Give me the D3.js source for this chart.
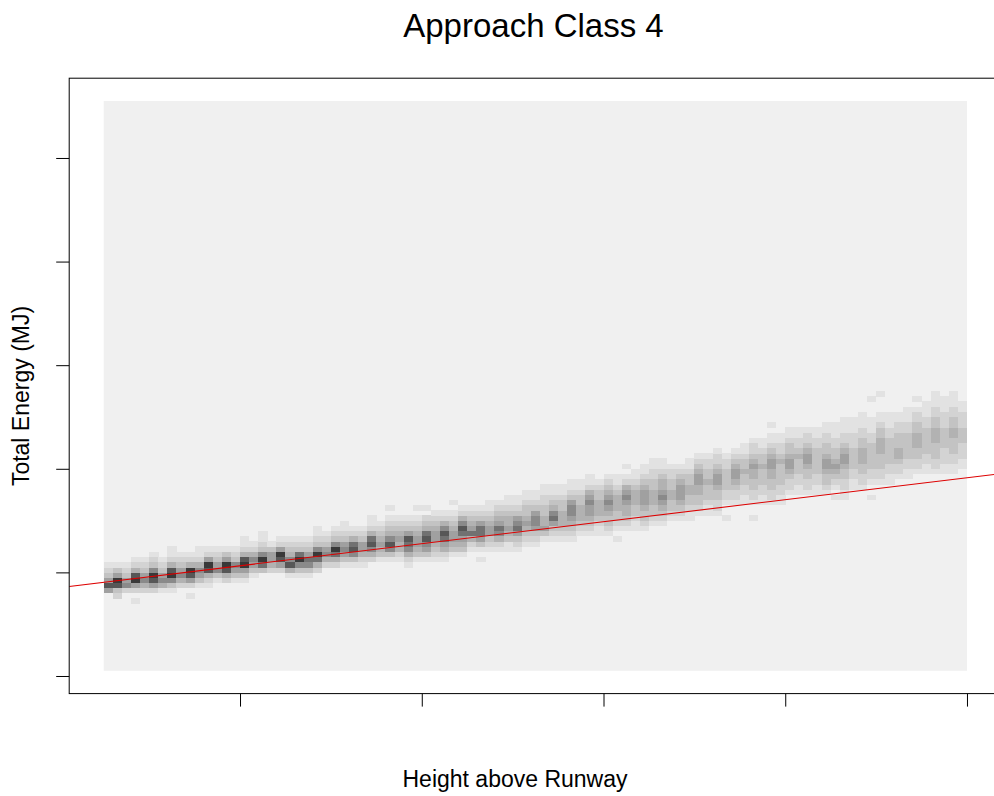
<!DOCTYPE html>
<html>
<head>
<meta charset="utf-8">
<script src="https://cdn.jsdelivr.net/npm/d3@7"></script>
<style>
  body { margin: 0; background: #ffffff; }
  svg text { font-family: "Liberation Sans", Arial, Helvetica, sans-serif; fill: #000; }
</style>
</head>
<body>
<svg id="chart" width="994" height="796"></svg>
<script>
// Height bins (ft): 95 bins of 50 ft covering 250..5000
const heightRange = [250, 5000];
const heightBinWidth = 50;
// Energy bins (MJ): 110 bins of 1 MJ covering 1..111
const energyRange = [1, 111];
const energyBinWidth = 1;

// Lowest energy bin that holds counts, one entry per height bin
const columnBaseBin = [
  16, 15, 16, 14, 16, 16, 16, 16, 17, 15, 17, 17, 18, 18, 18, 18, 19, 20, 20, 20,
  19, 19, 19, 20, 21, 21, 21, 21, 21, 22, 22, 22, 22, 21, 22, 22, 22, 22, 23, 23,
  24, 22, 24, 24, 24, 24, 25, 25, 26, 26, 26, 26, 27, 27, 27, 27, 26, 28, 28, 28,
  29, 29, 30, 30, 30, 31, 31, 31, 30, 33, 33, 30, 33, 33, 33, 35, 35, 35, 35,
  35, 34, 34, 36, 36, 34, 37, 37, 38, 38, 39, 39, 39, 39, 39, 40
];

// Counts per energy bin, going upward from columnBaseBin (one digit per bin)
const columnCounts = [
  "585321", "2389531", "265321", "102598421", "2465321",
  "25896321", "1465321", "136984211", "2465321", "102589421",
  "13564211", "12489521", "1365321", "2489531", "1356321",
  "135984211", "1356421", "37963211", "245531", "2589521",
  "14864321", "13697321", "13675321", "247963211", "2465321",
  "24796321", "135653211", "13687421", "12455321", "246874211",
  "13454321", "13686432101", "124454321", "1246785321", "13455432101",
  "13568743201", "1234554321", "1245786421", "13455432101", "1345786421",
  "124754321", "10135775321", "1235543211", "1246754321", "11345443211",
  "12357653211", "12345433211", "12356653211", "13544332211", "12357643211",
  "12344433211", "123456653211", "12344433211", "123455654211", "11234443321",
  "123345654321", "1012334443211", "1234456542101", "112334443211", "1233455543211",
  "1233444332211", "1234565443211", "12334433221", "12345554321", "112334433211",
  "123344554321", "112333433221", "1223345543221", "1001223333221", "12234554321",
  "112233433211", "1001223344543221", "1122333433211", "1223344554321101", "11223333432211",
  "1223455433211", "1122333432211", "1223345543221", "1122333332211",
  "12334554332211", "101234543322111", "1122334554322111", "11223333222111", "122334443322111",
  "10012233333221110001", "122333444332110001", "11223333322111", "1223443332211", "11223333322111",
  "122334443322101", "11223333322111", "1223334443322111", "112223333222111", "1122333443322111",
  "1122233322211"
];

// Axis tick values (labels are not printed)
const heightTicks = [1000, 2000, 3000, 4000, 5000];
const energyTicks = [0, 20, 40, 60, 80, 100];

// Linear fit: energy = intercept + slope * height
const fitIntercept = 17.03;
const fitSlope = 0.004249;

const titleText = "Approach Class 4";
const xLabelText = "Height above Runway";
const yLabelText = "Total Energy (MJ)";

// ---- build cell records ----
const cells = [];
columnCounts.forEach((s, i) => {
  const h0 = heightRange[0] + i * heightBinWidth;
  for (let k = 0; k < s.length; k++) {
    const n = +s[k];
    if (n > 0) {
      const e0 = columnBaseBin[i] + k * energyBinWidth;
      cells.push({ h0, h1: h0 + heightBinWidth, e0, e1: e0 + energyBinWidth, n });
    }
  }
});

// ---- layout (base-graphics style: 4% padding around the data range) ----
const svg = d3.select("#chart");
const plotLeft = 69.2, plotRight = 1001.5, plotTop = 78.2, plotBottom = 693.6;
const pad = r => { const d = (r[1] - r[0]) * 0.04; return [r[0] - d, r[1] + d]; };

const x = d3.scaleLinear().domain(pad(heightRange)).range([plotLeft, plotRight]);
const y = d3.scaleLinear().domain(pad(energyRange)).range([plotBottom, plotTop]);

// grey ramp: more counts -> darker
const greys = ["#f0f0f0", "#e2e2e2", "#d3d3d3", "#c3c3c3", "#b2b2b2",
               "#a0a0a0", "#8a8a8a", "#717171", "#575757", "#393939"];
const fill = d3.scaleOrdinal().domain(d3.range(10)).range(greys);

// image background (empty bins)
svg.append("rect")
  .attr("x", x(heightRange[0]))
  .attr("y", y(energyRange[1]))
  .attr("width", x(heightRange[1]) - x(heightRange[0]))
  .attr("height", y(energyRange[0]) - y(energyRange[1]))
  .attr("fill", greys[0]);

svg.append("g")
  .attr("shape-rendering", "crispEdges")
  .selectAll("rect")
  .data(cells)
  .join("rect")
  .attr("x", d => x(d.h0))
  .attr("y", d => y(d.e1))
  .attr("width", d => x(d.h1) - x(d.h0) + 0.3)
  .attr("height", d => y(d.e0) - y(d.e1) + 0.3)
  .attr("fill", d => fill(d.n));

// fitted line, clipped to the plot region
svg.append("clipPath").attr("id", "plotClip")
  .append("rect")
  .attr("x", plotLeft).attr("y", plotTop)
  .attr("width", plotRight - plotLeft).attr("height", plotBottom - plotTop);

const [dx0, dx1] = x.domain();
svg.append("line")
  .attr("clip-path", "url(#plotClip)")
  .attr("x1", x(dx0)).attr("y1", y(fitIntercept + fitSlope * dx0))
  .attr("x2", x(dx1)).attr("y2", y(fitIntercept + fitSlope * dx1))
  .attr("stroke", "#dd0000")
  .attr("stroke-width", 1.1);

// axes with unlabelled ticks
const xAxis = d3.axisBottom(x).tickValues(heightTicks).tickSize(13).tickFormat("");
const yAxis = d3.axisLeft(y).tickValues(energyTicks).tickSize(13).tickFormat("");

const gx = svg.append("g").attr("transform", `translate(0,${plotBottom})`).call(xAxis);
gx.select(".domain").remove();
gx.selectAll(".tick line").attr("stroke", "#000");

const gy = svg.append("g").attr("transform", `translate(${plotLeft},0)`).call(yAxis);
gy.select(".domain").remove();
gy.selectAll(".tick line").attr("stroke", "#000");

// box around the plot region
svg.append("rect")
  .attr("x", plotLeft).attr("y", plotTop)
  .attr("width", plotRight - plotLeft).attr("height", plotBottom - plotTop)
  .attr("fill", "none")
  .attr("stroke", "#000")
  .attr("stroke-width", 1);

// titles
svg.append("text")
  .attr("x", 533.5).attr("y", 37)
  .attr("text-anchor", "middle")
  .attr("font-size", 33)
  .text(titleText);

svg.append("text")
  .attr("x", 515).attr("y", 787)
  .attr("text-anchor", "middle")
  .attr("font-size", 23)
  .text(xLabelText);

svg.append("text")
  .attr("transform", "translate(29,396) rotate(-90)")
  .attr("text-anchor", "middle")
  .attr("font-size", 23)
  .text(yLabelText);
</script>
</body>
</html>
